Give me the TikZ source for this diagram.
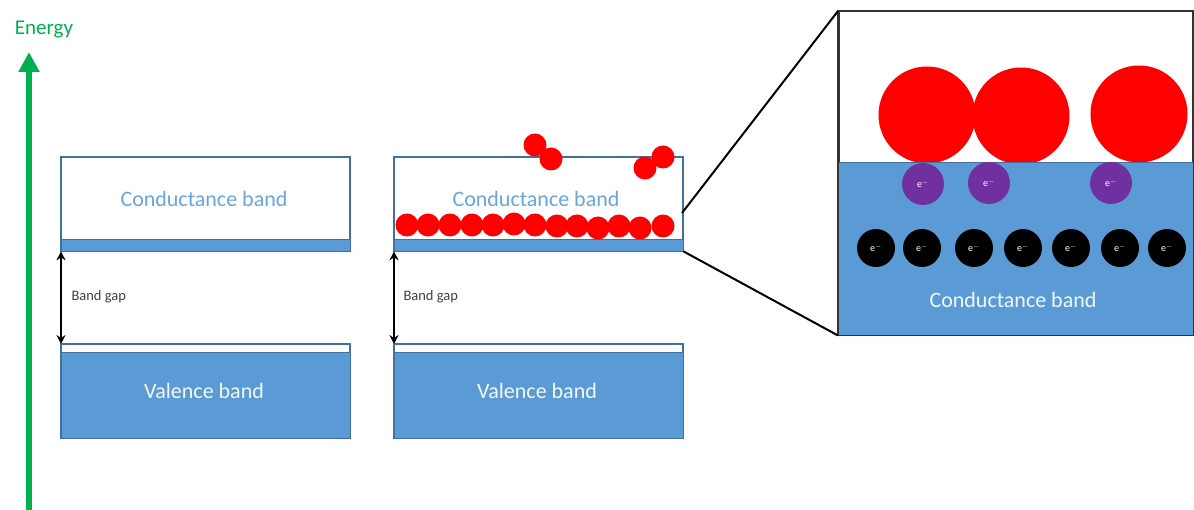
\documentclass[tikz,border=0pt]{standalone}
\usepackage{fontspec}
\setmainfont{Carlito}
\usetikzlibrary{arrows.meta}

\definecolor{bandblue}{HTML}{5B9BD5}
\definecolor{bandedge}{HTML}{41719C}
\definecolor{labelblue}{HTML}{6AA6DC}
\definecolor{energygreen}{HTML}{00B050}
\definecolor{holepurple}{HTML}{7030A0}

\tikzset{
  bandbox/.style={draw=bandedge, line width=1.3pt, fill=white, inner sep=0pt,
    minimum width=288pt, minimum height=93pt, anchor=north west},
  condlabel/.style={text=labelblue, font=\fontsize{22}{24}\selectfont},
  vallabel/.style={text=white!92!bandblue, font=\fontsize{22}{24}\selectfont},
  gaplabel/.style={text=black!75, font=\fontsize{14.5}{16}\selectfont, anchor=west},
  gaparrow/.style={line width=2.8pt, {Stealth[length=9pt,width=9pt]}-{Stealth[length=9pt,width=9pt]}},
  redball/.style={circle, fill=red, inner sep=0pt, minimum size=23pt},
  bigball/.style={circle, fill=red, inner sep=0pt, minimum size=97pt},
  hole/.style={circle, fill=holepurple, inner sep=0pt, minimum size=42pt,
    text=white, font=\fontsize{10}{10}\selectfont},
  electron/.style={circle, fill=black, inner sep=0pt, minimum size=38pt,
    text=white, font=\fontsize{10}{10}\selectfont},
  zoomline/.style={line width=2pt, black},
}

\begin{document}
\begin{tikzpicture}[x=1pt, y=-1pt]
\useasboundingbox (0,0) rectangle (1194,510);

% energy axis
\coordinate (ebot) at (29,510);
\node[text=energygreen, font=\fontsize{21}{22}\selectfont] (elab) at (44,30) {Energy};
\coordinate (etop) at (29,52);
\draw[energygreen, line width=6pt, -{Triangle[length=20pt,width=20pt]}] (ebot) -- (etop);

% ---------- left panel ----------
\node[bandbox] (cb1) at (61,157) {};
\fill[bandblue] (cb1.south west) rectangle ([yshift=12pt]cb1.south east);
\draw[bandedge, line width=1pt] ([yshift=12pt]cb1.south west) -- ([yshift=12pt]cb1.south east);
\draw[bandedge, line width=1.3pt] (cb1.north west) rectangle (cb1.south east);
\node[condlabel] (ct1) at (204,199) {Conductance band};

\node[bandbox] (vb1) at (61,344) {};
\fill[bandblue] ([yshift=-9pt]vb1.north west) rectangle (vb1.south east);
\draw[bandedge, line width=1pt] ([yshift=-9pt]vb1.north west) -- ([yshift=-9pt]vb1.north east);
\draw[bandedge, line width=1.3pt] (vb1.north west) rectangle (vb1.south east);
\node[vallabel] (vt1) at (204,391) {Valence band};

\draw[gaparrow] (cb1.south west) -- (vb1.north west);
\node[gaplabel] (gl1) at (68,297) {Band gap};

% ---------- middle panel ----------
\node[bandbox] (cb2) at (394,157) {};
\fill[bandblue] (cb2.south west) rectangle ([yshift=12pt]cb2.south east);
\draw[bandedge, line width=1pt] ([yshift=12pt]cb2.south west) -- ([yshift=12pt]cb2.south east);
\draw[bandedge, line width=1.3pt] (cb2.north west) rectangle (cb2.south east);
\node[condlabel] (ct2) at (536,199) {Conductance band};

\node[bandbox] (vb2) at (394,344) {};
\fill[bandblue] ([yshift=-9pt]vb2.north west) rectangle (vb2.south east);
\draw[bandedge, line width=1pt] ([yshift=-9pt]vb2.north west) -- ([yshift=-9pt]vb2.north east);
\draw[bandedge, line width=1.3pt] (vb2.north west) rectangle (vb2.south east);
\node[vallabel] (vt2) at (537,391) {Valence band};

\draw[gaparrow] (cb2.south west) -- (vb2.north west);
\node[gaplabel] (gl2) at (400,297) {Band gap};

% row of red particles at the band edge
\foreach \x/\y [count=\i] in {407/225,428/225,450/225,472/225,493/225,514/224,535/225,557/226,577/226,598/228,619/226,640/228,663/226}
  \node[redball] (rp\i) at (\x,\y) {};
% stray particles above
\node[redball] (rq1) at (535,145) {};
\node[redball] (rq2) at (551,159) {};
\node[redball] (rq3) at (645,168) {};
\node[redball] (rq4) at (663,157) {};

% ---------- magnified view ----------
\node[draw=black!80, line width=1.5pt, fill=white, inner sep=0pt, anchor=north west,
  minimum width=354pt, minimum height=323pt] (zb) at (838,11) {};
\node[bigball] (bb1) at (927,115) {};
\node[bigball] (bb2) at (1021,116) {};
\node[bigball] (bb3) at (1139,114) {};
\coordinate (zmid) at (838,163);
\fill[bandblue] (zmid) rectangle (zb.south east);
\draw[bandedge, line width=1pt] (zmid) -- (zmid -| zb.east);
\draw[black!80, line width=1.5pt] (zb.north west) rectangle (zb.south east);

\node[hole] (h1) at (923,184) {e$^{-}$};
\node[hole] (h2) at (989,183) {e$^{-}$};
\node[hole] (h3) at (1111,183) {e$^{-}$};

\foreach \x [count=\i] in {876,922,974,1023,1071,1120,1167}
  \node[electron] (el\i) at (\x,248) {e$^{-}$};

\node[text=white!92!bandblue, font=\fontsize{22}{24}\selectfont] (zt) at (1013,300) {Conductance band};

% lines linking the band edge to its magnified view
\coordinate (z1) at (682,213);
\draw[zoomline] (z1) -- (zb.north west);
\draw[zoomline] (cb2.south east) -- (zb.south west);
\end{tikzpicture}
\end{document}
